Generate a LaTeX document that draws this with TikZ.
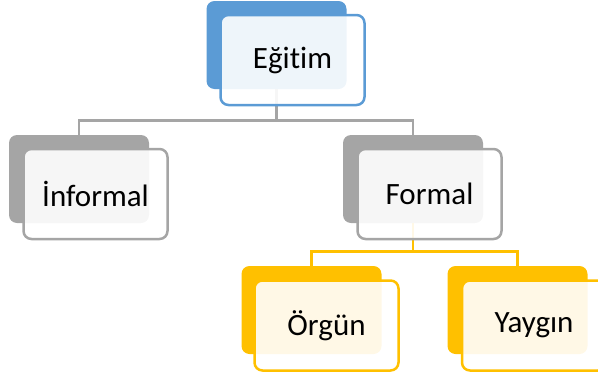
\documentclass[tikz,border=0pt]{standalone}
\usepackage{fontspec}
\setmainfont{Carlito}[Ligatures={NoCommon}]
\definecolor{cblue}{HTML}{5B9BD5}
\definecolor{cgray}{HTML}{A5A5A5}
\definecolor{cyel}{HTML}{FFC000}
\tikzset{
  backbox/.style={rectangle, rounded corners=8pt, minimum width=140pt, minimum height=88pt, inner sep=0pt, fill=#1, draw=none},
  frontbox/.style={rectangle, rounded corners=8pt, minimum width=144pt, minimum height=90pt, inner sep=0pt, draw=#1, line width=2.5pt, fill=white, fill opacity=0.9, text opacity=1, font=\fontsize{31}{37}\selectfont},
  conn/.style={draw=#1, line width=2.8pt}
}
\begin{document}
\begin{tikzpicture}[x=1pt,y=-1pt]
\useasboundingbox (0,0) rectangle (598,378);
% back boxes
\node[backbox=cblue] (eb) at (276.5,45) {};
\node[backbox=cgray] (ib) at (79,179) {};
\node[backbox=cgray] (fb) at (413,179) {};
\node[backbox=cyel] (ob) at (311.5,310) {};
\node[backbox=cyel] (yb) at (517.5,310) {};
% connectors
\draw[conn=cgray] (eb.south) -- ++(0,31) -| (ib.north);
\draw[conn=cgray] (eb.south) ++(0,31) -| (fb.north);
\draw[conn=cyel] (fb.south) -- ++(0,28) -| (ob.north);
\draw[conn=cyel] (fb.south) ++(0,28) -| (yb.north);
% front boxes
\node[frontbox=cblue] (ef) at (292.5,60) {Eğitim};
\node[frontbox=cgray] (if) at (95.5,194) {İnformal};
\node[frontbox=cgray] (ff) at (429.5,194) {Formal};
\node[frontbox=cyel] (of) at (326.5,325.5) {Örgün};
\node[frontbox=cyel] (yf) at (534,325.5) {Yaygın};
\end{tikzpicture}
\end{document}
